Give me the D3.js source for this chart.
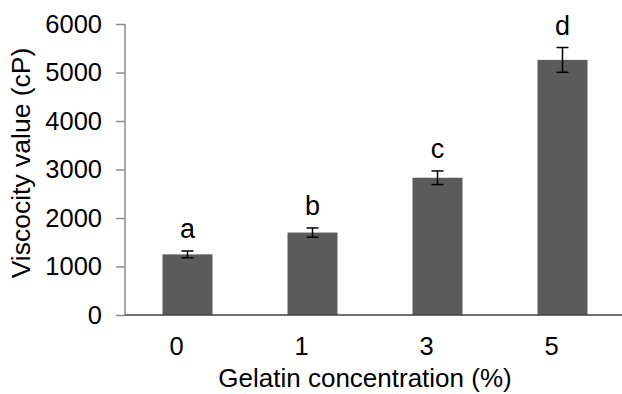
<!DOCTYPE html>
<html>
<head>
<meta charset="utf-8">
<script src="https://cdn.jsdelivr.net/npm/d3@7/dist/d3.min.js"></script>
<style>
  html, body { margin: 0; padding: 0; background: #fff; }
  svg { display: block; font-family: "Liberation Sans", Arial, sans-serif; }
</style>
</head>
<body>
<svg id="chart" width="622" height="394"></svg>
<script>
const categories = ["0", "1", "3", "5"];
const values = [1250, 1700, 2830, 5260];
const errors = [70, 95, 140, 255];
const letters = ["a", "b", "c", "d"];
const yTicks = [0, 1000, 2000, 3000, 4000, 5000, 6000];

(function () {
const svg = d3.select("#chart");
const mLeft = 125, mRight = 625, mTop = 24, mBottom = 315;

const x = d3.scaleBand().domain(categories).range([mLeft, mRight]).paddingInner(0.6).paddingOuter(0.3);
const y = d3.scaleLinear().domain([0, 6000]).range([mBottom, mTop]);

// bars
svg.selectAll("rect.bar").data(values).join("rect")
  .attr("class", "bar")
  .attr("x", (d, i) => x(categories[i]))
  .attr("width", x.bandwidth())
  .attr("y", d => y(d))
  .attr("height", d => y(0) - y(d))
  .attr("fill", "#5b5b5b");

// error bars
const eg = svg.append("g").attr("stroke", "#000").attr("stroke-width", 1.5);
values.forEach((v, i) => {
  const cx = x(categories[i]) + x.bandwidth() / 2;
  eg.append("line").attr("x1", cx).attr("x2", cx).attr("y1", y(v + errors[i])).attr("y2", y(v - errors[i]));
  eg.append("line").attr("x1", cx - 6).attr("x2", cx + 6).attr("y1", y(v + errors[i])).attr("y2", y(v + errors[i]));
  eg.append("line").attr("x1", cx - 6).attr("x2", cx + 6).attr("y1", y(v - errors[i])).attr("y2", y(v - errors[i]));
});

// letters
svg.selectAll("text.letter").data(letters).join("text")
  .attr("class", "letter")
  .attr("x", (d, i) => x(categories[i]) + x.bandwidth() / 2)
  .attr("y", (d, i) => y(values[i] + errors[i]) - 13)
  .attr("text-anchor", "middle")
  .attr("font-size", 27)
  .attr("fill", "#000")
  .text(d => d);

// y axis
const yAxis = svg.append("g").attr("transform", `translate(${mLeft},0)`)
  .call(d3.axisLeft(y).tickValues(yTicks).tickSize(9).tickPadding(14).tickFormat(d3.format("d")));
yAxis.select(".domain").attr("stroke", "#8c8c8c").attr("stroke-width", 1.5).attr("d", `M0,${mTop}V${mBottom}`);
yAxis.selectAll(".tick line").attr("stroke", "#8c8c8c").attr("stroke-width", 1.5);
yAxis.selectAll(".tick text").attr("font-size", 25.5).attr("fill", "#000").attr("font-family", "Liberation Sans, Arial, sans-serif");

// x axis
const xAxis = svg.append("g").attr("transform", `translate(0,${mBottom})`)
  .call(d3.axisBottom(x).tickSize(0).tickPadding(0));
xAxis.select(".domain").attr("stroke", "#404040").attr("stroke-width", 1.5).attr("d", `M${mLeft},0H622`);
xAxis.selectAll(".tick text").attr("font-size", 25.5).attr("fill", "#000")
  .attr("font-family", "Liberation Sans, Arial, sans-serif")
  .attr("dy", 0).attr("y", 40).attr("dx", -11);

// axis titles
svg.append("text")
  .attr("x", 365).attr("y", 387)
  .attr("text-anchor", "middle")
  .attr("font-size", 26)
  .attr("fill", "#000")
  .text("Gelatin concentration (%)");

svg.append("text")
  .attr("transform", "translate(30,163) rotate(-90)")
  .attr("text-anchor", "middle")
  .attr("font-size", 26.5)
  .attr("fill", "#000")
  .text("Viscocity value (cP)");
})();
</script>
</body>
</html>
